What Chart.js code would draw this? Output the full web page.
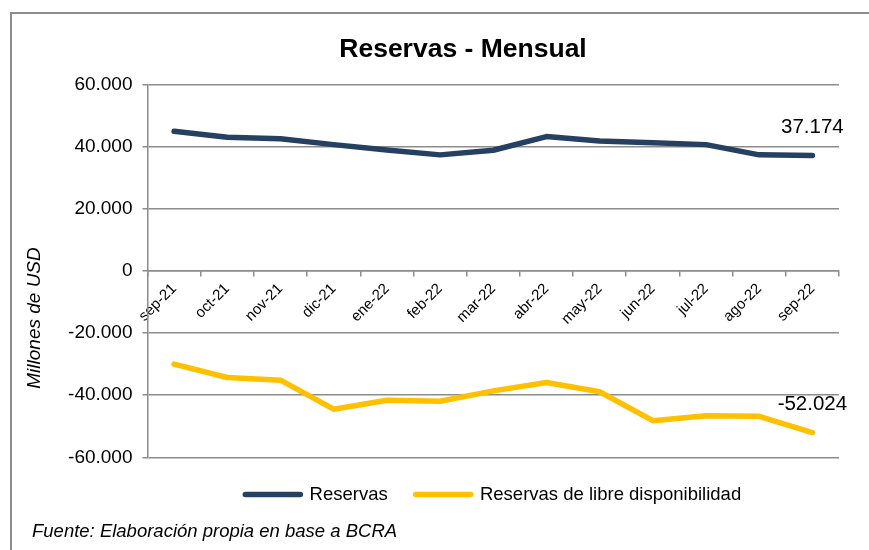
<!DOCTYPE html>
<html lang="es">
<head>
    <meta charset="UTF-8">
    <title>Reservas - Mensual</title>
    <script src="https://cdn.jsdelivr.net/npm/chart.js"></script>
    <style>
        body {
            margin: 0;
            width: 869px;
            height: 550px;
            overflow: hidden;
            background: #fff;
            position: relative;
        }
        /* marco gris del gráfico original (recortado a la derecha) */
        .marco {
            position: absolute;
            left: 10px;
            top: 12px;
            width: 900px;
            height: 560px;
            border-left: 2px solid #8c8c8c;
            border-top: 2px solid #8c8c8c;
        }
        #grafico {
            position: absolute;
            left: 12px;
            top: 14px;
        }
    </style>
</head>
<body>
    <div class="marco"></div>
    <canvas id="grafico" width="882" height="536"></canvas>

    <script>
        // Datos (millones de USD)
        const meses = ['sep-21', 'oct-21', 'nov-21', 'dic-21', 'ene-22', 'feb-22', 'mar-22',
                       'abr-22', 'may-22', 'jun-22', 'jul-22', 'ago-22', 'sep-22'];
        const reservas = [45000, 43100, 42600, 40700, 39000, 37400, 38900,
                          43300, 41900, 41300, 40700, 37400, 37174];
        const reservasLibres = [-30000, -34300, -35150, -44500, -41600, -41950, -38600,
                                -35900, -38900, -48200, -46600, -46800, -52024];
        const marcasY = [-60000, -40000, -20000, 0, 20000, 40000, 60000];

        const gris = '#8c8c8c';
        Chart.defaults.font.family = "'Liberation Sans', Arial, sans-serif";
        Chart.defaults.color = '#000';

        // 60000 -> "60.000"
        function formato(v) {
            const s = String(Math.abs(Math.round(v))).replace(/\B(?=(\d{3})+(?!\d))/g, '.');
            return (v < 0 ? '-' : '') + s;
        }

        // valor del último mes sobre cada serie
        const etiquetasFinales = {
            id: 'etiquetasFinales',
            afterDatasetsDraw(chart) {
                const ctx = chart.ctx;
                ctx.save();
                ctx.font = "20.5px 'Liberation Sans', Arial, sans-serif";
                ctx.fillStyle = '#000';
                ctx.textAlign = 'center';
                ctx.textBaseline = 'middle';
                chart.data.datasets.forEach((ds, i) => {
                    const meta = chart.getDatasetMeta(i);
                    const ult = meta.data.length - 1;
                    const p = meta.data[ult];
                    ctx.fillText(formato(ds.data[ult]), p.x, p.y - 28);
                });
                ctx.restore();
            }
        };

        // título del eje Y
        const tituloEjeY = {
            id: 'tituloEjeY',
            afterDraw(chart) {
                const ctx = chart.ctx;
                ctx.save();
                ctx.translate(23, 304);
                ctx.rotate(-Math.PI / 2);
                ctx.font = "italic 19px 'Liberation Sans', Arial, sans-serif";
                ctx.fillStyle = '#000';
                ctx.textAlign = 'center';
                ctx.textBaseline = 'middle';
                ctx.fillText('Millones de USD', 0, 0);
                ctx.restore();
            }
        };

        const config = {
            type: 'line',
            data: {
                labels: meses,
                datasets: [{
                    label: 'Reservas',
                    data: reservas,
                    borderColor: '#254061',
                    backgroundColor: '#254061',
                    borderWidth: 5.5,
                    borderCapStyle: 'round',
                    borderJoinStyle: 'round',
                    pointRadius: 0,
                    tension: 0
                }, {
                    label: 'Reservas de libre disponibilidad',
                    data: reservasLibres,
                    borderColor: '#ffc000',
                    backgroundColor: '#ffc000',
                    borderWidth: 5.5,
                    borderCapStyle: 'round',
                    borderJoinStyle: 'round',
                    pointRadius: 0,
                    tension: 0
                }]
            },
            options: {
                responsive: false,
                animation: false,
                devicePixelRatio: 1,
                layout: { padding: { left: 20, right: 0, top: 0, bottom: 0 } },
                scales: {
                    x: {
                        position: { y: 0 },
                        offset: true,
                        afterFit(scale) { scale.height = 0; },
                        grid: {
                            offset: true,
                            drawOnChartArea: false,
                            drawTicks: true,
                            tickLength: 5,
                            color: gris,
                            lineWidth: 1.5
                        },
                        border: { display: true, color: gris, width: 1.5 },
                        ticks: {
                            autoSkip: false,
                            minRotation: 45,
                            maxRotation: 45,
                            padding: 4,
                            color: '#000',
                            font: { size: 15 }
                        }
                    },
                    y: {
                        min: -60000,
                        max: 60000,
                        afterFit(scale) { scale.width = 115.5; },
                        afterBuildTicks(scale) { scale.ticks = marcasY.map(v => ({ value: v })); },
                        grid: { color: gris, lineWidth: 1.5, tickLength: 5 },
                        border: { display: true, color: gris, width: 1.5 },
                        ticks: {
                            padding: 10,
                            color: '#000',
                            font: { size: 19 },
                            callback: v => formato(v)
                        }
                    },
                    derecha: {
                        type: 'linear',
                        position: 'right',
                        afterFit(scale) { scale.width = 55; },
                        grid: { display: false },
                        border: { display: false },
                        ticks: { display: false }
                    }
                },
                plugins: {
                    title: {
                        display: true,
                        text: 'Reservas - Mensual',
                        color: '#000',
                        font: { size: 26.5, weight: 'bold' },
                        padding: { top: 20, bottom: 18.9 }
                    },
                    subtitle: {
                        display: true,
                        position: 'bottom',
                        align: 'start',
                        text: 'Fuente: Elaboración propia en base a BCRA',
                        color: '#000',
                        font: { size: 18.5, style: 'italic' },
                        padding: { top: 6.6, bottom: 7.4 }
                    },
                    legend: {
                        position: 'bottom',
                        fullSize: false,
                        labels: {
                            usePointStyle: true,
                            pointStyleWidth: 55,
                            padding: 28,
                            color: '#000',
                            font: { size: 18.5 },
                            generateLabels(chart) {
                                const items = Chart.defaults.plugins.legend.labels.generateLabels(chart);
                                items.forEach(it => { it.pointStyle = 'line'; it.lineCap = 'round'; });
                                return items;
                            }
                        }
                    },
                    tooltip: { enabled: false }
                }
            },
            plugins: [etiquetasFinales, tituloEjeY]
        };

        new Chart(document.getElementById('grafico'), config);
    </script>
</body>
</html>
